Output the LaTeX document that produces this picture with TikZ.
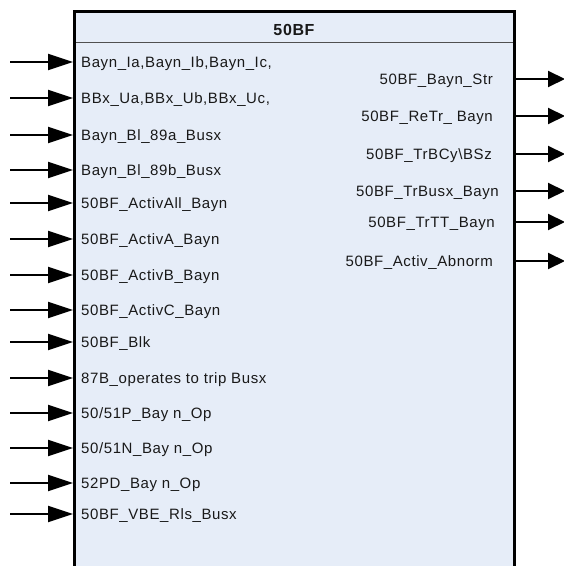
\documentclass[tikz,border=0pt]{standalone}
\usepackage{fontspec}
\setmainfont{Liberation Sans}[LetterSpace=4]
\usetikzlibrary{arrows.meta}
\definecolor{boxfill}{HTML}{E6EDF8}
\definecolor{sepgray}{HTML}{505050}
\tikzset{
  lbl/.style={font=\fontsize{15bp}{18bp}\selectfont, inner sep=0pt, text=black!90, yshift=-1.5bp},
  inarrow/.style={line width=2bp, -{Triangle[length=25bp,width=16bp]}},
  outarrow/.style={line width=2bp, -{Triangle[length=17bp,width=16bp]}},
  blockbox/.style={draw=black, line width=3bp, fill=boxfill, rectangle, inner sep=0pt}
}
\begin{document}
\begin{tikzpicture}[x=1bp,y=-1bp]
\useasboundingbox (0,0) rectangle (564,566);
\clip (0,0) rectangle (564,566);
% block
\node[blockbox, minimum width=440bp, minimum height=588bp] (box) at (294.5,306) {};
\coordinate (sepL) at (76,42);
\coordinate (sepR) at (513,42);
\draw[sepgray, line width=0.9bp] (sepL) -- (sepR);
\node[lbl, font=\fontsize{16bp}{18bp}\selectfont\bfseries] (title) at (294,28) {50BF};
% inputs
\foreach \y/\t [count=\i] in {
  62/{Bayn\_Ia,Bayn\_Ib,Bayn\_Ic,},
  98/{BBx\_Ua,BBx\_Ub,BBx\_Uc,},
  135/{Bayn\_Bl\_89a\_Busx},
  170/{Bayn\_Bl\_89b\_Busx},
  203/{50BF\_ActivAll\_Bayn},
  239/{50BF\_ActivA\_Bayn},
  275/{50BF\_ActivB\_Bayn},
  310/{50BF\_ActivC\_Bayn},
  342/{50BF\_Blk},
  378/{87B\_operates to trip Busx},
  413/{50/51P\_Bay n\_Op},
  448/{50/51N\_Bay n\_Op},
  483/{52PD\_Bay n\_Op},
  514/{50BF\_VBE\_Rls\_Busx}}{
  \node[lbl, anchor=west] (in\i) at (81,\y) {\t};
  \coordinate (ina\i) at (10,\y);
  \coordinate (inb\i) at (73,\y);
  \draw[inarrow] (ina\i) -- (inb\i);
}
% outputs
\foreach \y/\xe/\t [count=\i] in {
  79/493/{50BF\_Bayn\_Str},
  116/493/{50BF\_ReTr\_ Bayn},
  154/492/{50BF\_TrBCy\textbackslash BSz},
  191/499/{50BF\_TrBusx\_Bayn},
  222/495/{50BF\_TrTT\_Bayn},
  261/493/{50BF\_Activ\_Abnorm}}{
  \node[lbl, anchor=east] (out\i) at (\xe,\y) {\t};
  \coordinate (outa\i) at (515,\y);
  \coordinate (outb\i) at (565,\y);
  \draw[outarrow] (outa\i) -- (outb\i);
}
\end{tikzpicture}
\end{document}
